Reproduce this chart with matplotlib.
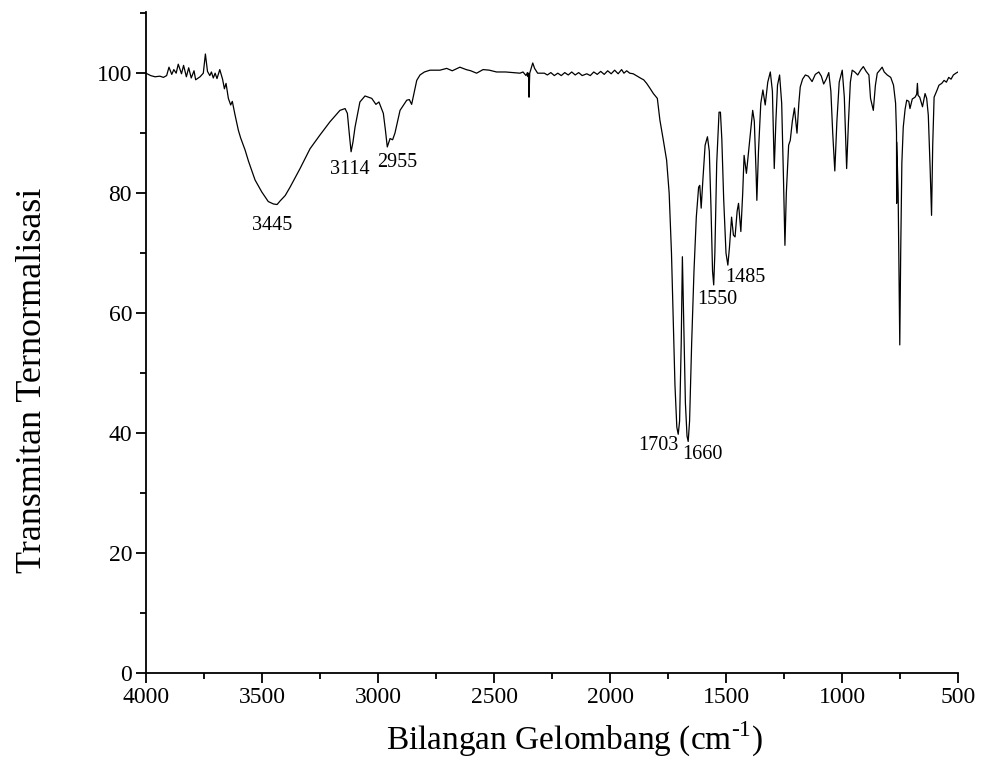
import matplotlib
matplotlib.use("Agg")
import matplotlib.pyplot as plt
from matplotlib.ticker import MultipleLocator

# ---- data ----
wavenumber = [
    4000, 3980, 3961, 3940, 3925, 3911, 3901, 3889, 3880, 3870, 3861, 3847, 3838, 3826, 3816,
    3805, 3793, 3786, 3775, 3767, 3753, 3744, 3735, 3725, 3718, 3710, 3702, 3694, 3682, 3670,
    3662, 3655, 3645, 3635, 3628, 3616, 3602, 3592, 3573, 3558, 3530, 3501, 3473, 3451, 3435,
    3422, 3400, 3379, 3336, 3293, 3250, 3207, 3164, 3142, 3132, 3124, 3116, 3108, 3099, 3078,
    3056, 3027, 3009, 2996, 2977, 2968, 2960, 2948, 2937, 2927, 2905, 2876, 2865, 2855, 2845,
    2833, 2819, 2800, 2776, 2750, 2733, 2704, 2680, 2647, 2620, 2600, 2575, 2547, 2520, 2489,
    2450, 2420, 2388, 2375, 2362, 2356, 2353, 2351, 2349, 2346, 2340, 2333, 2325, 2312, 2283,
    2270, 2255, 2240, 2225, 2210, 2195, 2180, 2165, 2150, 2135, 2120, 2100, 2085, 2070, 2055,
    2040, 2025, 2010, 1995, 1980, 1965, 1950, 1940, 1928, 1915, 1900, 1878, 1865, 1855, 1842,
    1828, 1813, 1796, 1785, 1770, 1756, 1745, 1735, 1727, 1720, 1712, 1706, 1700, 1693, 1688,
    1683, 1675, 1668, 1663, 1657, 1648, 1638, 1628, 1618, 1613, 1607, 1600, 1590, 1580, 1572,
    1565, 1558, 1553, 1548, 1540, 1530, 1524, 1518, 1510, 1500, 1492, 1485, 1476, 1468, 1461,
    1452, 1446, 1436, 1428, 1422, 1412, 1400, 1385, 1378, 1370, 1367, 1360, 1350, 1341, 1331,
    1320, 1309, 1300, 1292, 1285, 1278, 1269, 1260, 1252, 1246, 1240, 1230, 1223, 1214, 1205,
    1194, 1186, 1180, 1170, 1158, 1145, 1129, 1115, 1100, 1089, 1079, 1068, 1057, 1048, 1040,
    1031, 1022, 1012, 999, 990, 980, 972, 964, 956, 945, 932, 920, 908, 896, 884,
    877, 865, 856, 848, 837, 827, 818, 805, 790, 778, 769, 765, 764.5, 764, 758,
    754, 751, 747, 742, 736, 728, 721, 712, 707, 697, 685, 678, 675, 672, 665,
    653, 642, 635, 628, 620, 614, 609, 603, 590, 582, 570, 560, 550, 540, 530,
    520, 509, 500,
]
transmittance = [
    100.0, 99.6, 99.4, 99.5, 99.3, 99.6, 101.0, 99.8, 100.6, 100.0, 101.5, 99.9, 101.3, 99.4, 100.9,
    99.2, 100.4, 98.9, 99.2, 99.4, 100.0, 103.2, 100.3, 99.6, 100.2, 99.2, 100.0, 99.1, 100.6, 99.0,
    97.4, 98.3, 95.8, 94.7, 95.3, 93.0, 90.5, 89.2, 87.2, 85.3, 82.2, 80.2, 78.6, 78.2, 78.1,
    78.7, 79.6, 81.0, 84.1, 87.4, 89.7, 91.9, 93.8, 94.1, 93.3, 90.0, 86.9, 88.5, 91.0, 95.2,
    96.2, 95.8, 94.8, 95.2, 93.3, 90.5, 87.7, 89.1, 88.9, 90.0, 93.8, 95.5, 95.6, 94.8, 96.6,
    98.8, 99.7, 100.2, 100.5, 100.5, 100.5, 100.8, 100.4, 101.0, 100.6, 100.4, 100.0, 100.6, 100.5, 100.2,
    100.2, 100.1, 100.0, 100.2, 99.6, 100.1, 99.4, 100.0, 96.0, 100.0, 100.8, 101.7, 100.8, 100.0, 100.0,
    99.7, 100.1, 99.6, 100.0, 99.6, 100.1, 99.7, 100.2, 99.7, 100.1, 99.6, 99.9, 99.6, 100.2, 99.8,
    100.3, 99.8, 100.4, 99.9, 100.5, 99.9, 100.6, 100.0, 100.4, 100.0, 99.9, 99.4, 99.1, 98.9, 98.3,
    97.5, 96.6, 95.8, 92.2, 88.8, 85.5, 80.0, 70.0, 58.0, 48.0, 41.0, 39.8, 42.0, 55.0, 69.4,
    60.0, 45.0, 39.5, 38.6, 42.0, 55.0, 67.0, 76.0, 81.0, 81.3, 77.5, 82.0, 88.0, 89.4, 87.0,
    78.0, 67.0, 64.7, 70.0, 85.0, 93.5, 93.5, 89.0, 79.0, 70.0, 68.0, 71.0, 76.0, 73.0, 72.7,
    77.0, 78.3, 73.6, 80.0, 86.3, 83.3, 88.0, 93.8, 92.0, 83.0, 78.8, 87.0, 95.0, 97.2, 94.7,
    98.5, 100.2, 97.0, 84.1, 92.0, 98.0, 99.7, 95.0, 82.0, 71.3, 80.0, 88.0, 88.8, 92.0, 94.2,
    90.0, 95.0, 97.7, 99.0, 99.7, 99.5, 98.6, 99.8, 100.2, 99.5, 98.2, 99.0, 100.1, 97.0, 90.0,
    83.7, 92.0, 98.5, 100.5, 96.0, 84.1, 92.0, 98.5, 100.5, 100.2, 99.7, 100.5, 101.1, 100.3, 99.7,
    95.8, 93.8, 98.0, 100.0, 100.5, 101.0, 100.2, 99.7, 99.3, 98.0, 95.0, 90.0, 78.3, 88.5, 80.0,
    65.0, 54.7, 70.0, 85.0, 91.0, 94.0, 95.5, 95.3, 94.1, 95.7, 96.0, 96.5, 98.3, 96.3, 96.0,
    94.4, 96.6, 95.8, 93.0, 84.0, 76.3, 88.0, 96.0, 97.2, 98.0, 98.3, 98.8, 98.5, 99.3, 99.0,
    99.7, 100.0, 100.2,
]

peak_labels = ["3445", "3114", "2955", "1703", "1660", "1550", "1485"]
peak_label_x = [3455, 3121, 2919, 1792, 1602, 1538, 1416]
peak_label_y = [74.6, 84.0, 85.1, 37.9, 36.5, 62.3, 65.9]

x_ticks = [4000, 3500, 3000, 2500, 2000, 1500, 1000, 500]
y_ticks = [0, 20, 40, 60, 80, 100]

# ---- figure ----
plt.rcParams["font.family"] = ["Liberation Serif", "DejaVu Serif"]
plt.rcParams["mathtext.fontset"] = "custom"
plt.rcParams["mathtext.rm"] = "Liberation Serif"
plt.rcParams["axes.unicode_minus"] = False

fig = plt.figure(figsize=(9.81, 7.82), dpi=100)
ax = fig.add_axes([146 / 981, 1 - 673 / 782, (958 - 146) / 981, (673 - 12) / 782])

ax.plot(wavenumber, transmittance, color="black", linewidth=0.9)

for lab, lx, ly in zip(peak_labels, peak_label_x, peak_label_y):
    ax.text(lx, ly, lab, ha="center", va="center", fontsize=14.5)

ax.set_xlim(4000, 500)
ax.set_ylim(0, 110.2)
ax.set_xticks(x_ticks)
ax.set_yticks(y_ticks)
ax.xaxis.set_minor_locator(MultipleLocator(250))
ax.yaxis.set_minor_locator(MultipleLocator(10))

for s in ["top", "right"]:
    ax.spines[s].set_visible(False)
for s in ["left", "bottom"]:
    ax.spines[s].set_linewidth(1.3)

ax.tick_params(axis="both", which="major", direction="out", length=7, width=1.3,
               labelsize=17, pad=3)
ax.tick_params(axis="both", which="minor", direction="out", length=4, width=1.3)

ax.set_xlabel("Bilangan Gelombang (cm$^{\u2010\\mathregular{1}}$)", fontsize=24)
ax.xaxis.set_label_coords(0.528, -0.101)
ax.xaxis.label.set_verticalalignment("center")
ax.set_ylabel("Transmitan Ternormalisasi", fontsize=26)
ax.yaxis.set_label_coords(-0.140, 0.443)
ax.yaxis.label.set_verticalalignment("center")

fig.savefig("out.png", dpi=100)
